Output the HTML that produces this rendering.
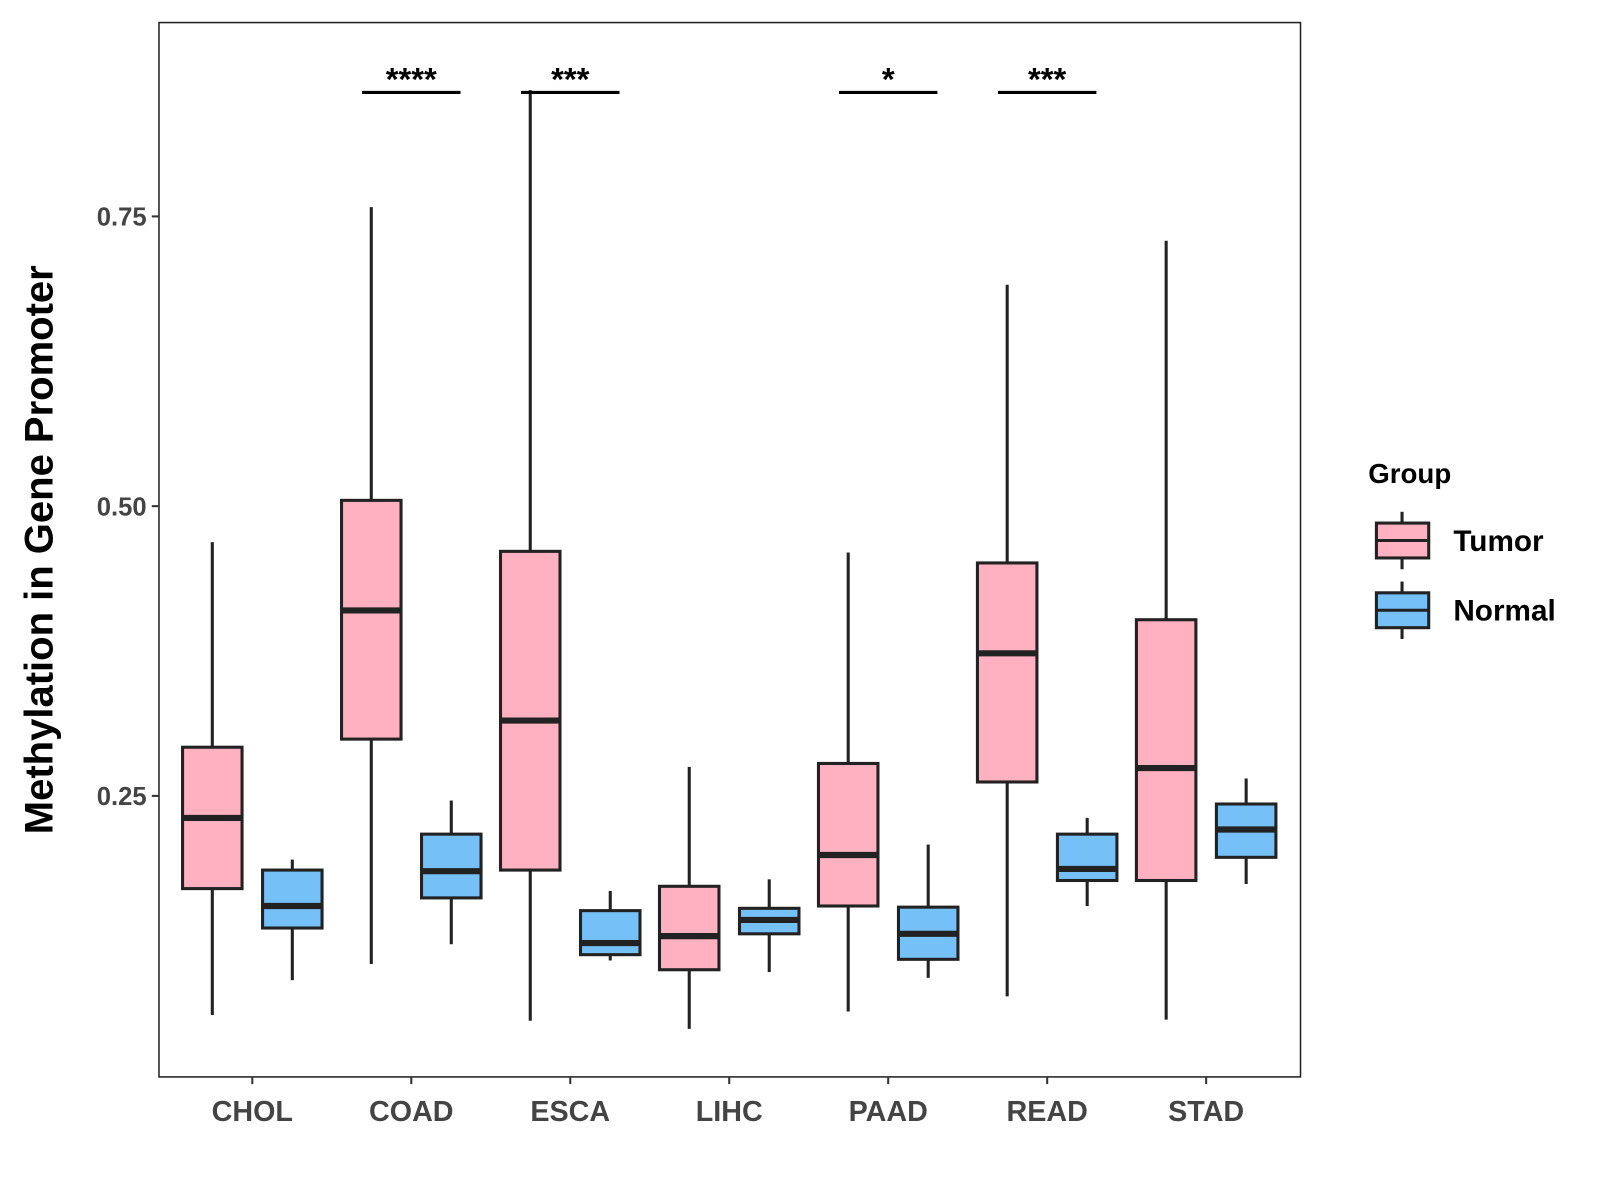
<!DOCTYPE html>
<html><head><meta charset="utf-8"><style>
html,body{margin:0;padding:0;background:#fff;}
svg{display:block;font-family:"Liberation Sans",Arial,sans-serif;font-weight:bold;}
</style></head><body>
<svg id="chart" width="1600" height="1200" viewBox="0 0 1560 1170" xmlns="http://www.w3.org/2000/svg">
<rect width="1560" height="1170" fill="#fff"/>
<g id="plot"></g>
</svg>
<script>
const categories = ["CHOL","COAD","ESCA","LIHC","PAAD","READ","STAD"];
// [whiskerHigh, q3, median, q1, whiskerLow]
const tumorStats = [
 [0.469,0.292,0.231,0.170,0.061],
 [0.758,0.505,0.410,0.299,0.105],
 [0.859,0.461,0.315,0.186,0.056],
 [0.275,0.172,0.129,0.100,0.049],
 [0.460,0.278,0.199,0.155,0.064],
 [0.691,0.451,0.373,0.262,0.077],
 [0.729,0.402,0.274,0.177,0.057]];
const normalStats = [
 [0.195,0.186,0.155,0.136,0.091],
 [0.246,0.217,0.185,0.162,0.122],
 [0.168,0.151,0.123,0.113,0.108],
 [0.178,0.153,0.143,0.131,0.098],
 [0.208,0.154,0.131,0.109,0.093],
 [0.231,0.217,0.187,0.177,0.155],
 [0.265,0.243,0.221,0.197,0.174]];
const significance = ["","****","***","","*","***",""];
const yTicks = [0.25,0.50,0.75];
const yTickLabels = ["0.25","0.50","0.75"];
const bracketValue = 0.857;

const NS="http://www.w3.org/2000/svg";
const g=document.getElementById('plot');
const P={l:155,r:1268,t:22,b:1050};
const y=v=>776-(v-0.25)*1130;
const x=i=>246+i*155;
function el(tag,attrs,parent){const e=document.createElementNS(NS,tag);for(const k in attrs)e.setAttribute(k,attrs[k]);(parent||g).appendChild(e);return e;}
const frame=el('rect',{x:P.l,y:P.t,width:P.r-P.l,height:P.b-P.t,fill:'none',stroke:'#222','stroke-width':1.5});


yTicks.forEach((v,i)=>{
 const t=el('line',{x1:P.l-7,x2:P.l,y1:y(v),y2:y(v),stroke:'#333','stroke-width':2});
 
 
 const lb=el('text',{x:P.l-12,y:y(v)+9,'text-anchor':'end','font-size':25,fill:'#444'});
 lb.textContent=yTickLabels[i];
 
 
});
const yt=el('text',{x:51,y:536,'text-anchor':'middle','font-size':39,fill:'#000',transform:'rotate(-90 51 536)'});
yt.textContent='Methylation in Gene Promoter';


function box(cx,s,fill,name){
 const w=58;
 const grp=el('g',{});
 
 
 el('line',{x1:cx,x2:cx,y1:y(s[0]),y2:y(s[1]),stroke:'#222','stroke-width':3},grp);
 el('line',{x1:cx,x2:cx,y1:y(s[3]),y2:y(s[4]),stroke:'#222','stroke-width':3},grp);
 el('rect',{x:cx-w/2,y:y(s[1]),width:w,height:y(s[3])-y(s[1]),fill:fill,stroke:'#222','stroke-width':3},grp);
 el('line',{x1:cx-w/2,x2:cx+w/2,y1:y(s[2]),y2:y(s[2]),stroke:'#222','stroke-width':6},grp);
}
categories.forEach((c,i)=>{
 box(x(i)-39,tumorStats[i],'#FFB0C1','box-tumor-'+c.toLowerCase());
 box(x(i)+39,normalStats[i],'#76C0F8','box-normal-'+c.toLowerCase());
 const t=el('line',{x1:x(i),x2:x(i),y1:P.b,y2:P.b+7,stroke:'#333','stroke-width':2});
 
 
 const lb=el('text',{x:x(i),y:1093,'text-anchor':'middle','font-size':28,fill:'#444'});
 lb.textContent=c;
 
 
 if(significance[i]){
  const br=el('line',{x1:x(i)-48,x2:x(i)+48,y1:y(bracketValue),y2:y(bracketValue),stroke:'#000','stroke-width':3});
  
  
  const st=el('text',{x:x(i),y:y(bracketValue)-2,'text-anchor':'middle','font-size':32,fill:'#000'});
  st.textContent=significance[i];
  
  
 }
});
const lt=el('text',{x:1334,y:471,'font-size':27,fill:'#000'});
lt.textContent='Group';


[['Tumor','#FFB0C1',527],['Normal','#76C0F8',595]].forEach(([n,f,cy])=>{
 const lg=el('g',{});
 
 
 el('line',{x1:1367,x2:1367,y1:cy-28,y2:cy+28,stroke:'#222','stroke-width':3},lg);
 el('rect',{x:1342,y:cy-17,width:51,height:34,fill:f,stroke:'#222','stroke-width':3},lg);
 el('line',{x1:1342,x2:1393,y1:cy,y2:cy,stroke:'#222','stroke-width':3},lg);
 const tx=el('text',{x:1417,y:cy+10,'font-size':29,fill:'#000'},lg);
 tx.textContent=n;
});
</script>
</body></html>
